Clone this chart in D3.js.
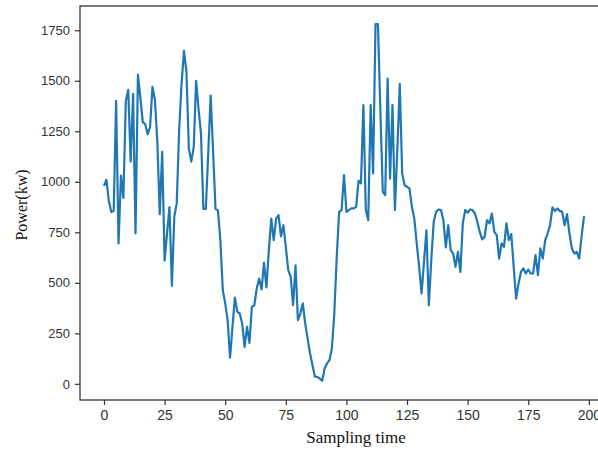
<!DOCTYPE html>
<html>
<head>
<meta charset="utf-8">
<script src="https://cdn.jsdelivr.net/npm/d3@7"></script>
<style>
  body { margin: 0; background: #fff; }
  .tick text { fill: #333; font-family: "Liberation Sans", Arial, sans-serif; }
  .axis-label { font-family: "Liberation Serif", "Times New Roman", serif; fill: #111; }
</style>
</head>
<body>
<div id="main"></div>
<script>
// power readings, one per sampling step (0..198)
const power = [
  980, 1010, 905, 850, 855, 1400, 695, 1030, 920, 1400,
  1455, 1100, 1435, 745, 1530, 1415, 1295, 1285, 1235, 1270,
  1470, 1405, 1200, 840, 1148, 610, 745, 875, 485, 827,
  893, 1256, 1487, 1648, 1545, 1165, 1100, 1170, 1500, 1360,
  1240, 866, 866, 1140, 1427, 1150, 866, 858, 711, 464,
  398, 315, 130, 282, 427, 356, 348, 299, 183, 282,
  203, 381, 389, 472, 521, 467, 599, 477, 662, 818,
  711, 818, 835, 730, 785, 678, 563, 530, 389, 587,
  315, 348, 398, 299, 224, 150, 92, 35, 35, 26,
  15, 76, 101, 117, 175, 348, 629, 851, 860, 1033,
  851, 860, 868, 868, 876, 1005, 992, 1380, 860, 810,
  1380, 1041, 1780, 1780, 1355, 950, 934, 1511, 1016, 1380,
  860, 1157, 1485, 1041, 983, 975, 967, 876, 818, 695,
  579, 447, 604, 760, 389, 612, 802, 851, 863, 860,
  810, 675, 785, 662, 645, 579, 653, 554, 794, 860,
  847, 863, 860, 843, 802, 752, 715, 728, 810, 794,
  843, 752, 736, 620, 695, 678, 794, 711, 741, 579,
  422, 497, 554, 571, 546, 566, 546, 546, 637, 538,
  670, 620, 711, 744, 785, 873, 856, 868, 856, 851,
  785, 840, 744, 670, 645, 653, 620, 728, 830
];
const xTicks = [0, 25, 50, 75, 100, 125, 150, 175, 200];
const yTicks = [0, 250, 500, 750, 1000, 1250, 1500, 1750];

const width = 598;
const height = 451;
const margin = { left: 80, top: 6, bottom: 400, right: 608 };

const svg = d3.select('#main')
              .append('svg')
              .attr('width', width)
              .attr('height', height);

const x = d3.scaleLinear().domain([-9.9, 207.9]).range([margin.left, margin.right]);
const y = d3.scaleLinear().domain([-80, 1870]).range([margin.bottom, margin.top]);

// frame (right side falls outside the picture)
svg.append('rect')
   .attr('x', margin.left)
   .attr('y', margin.top)
   .attr('width', margin.right - margin.left)
   .attr('height', margin.bottom - margin.top)
   .attr('fill', 'none')
   .attr('stroke', '#333')
   .attr('stroke-width', 1.3);

const xAxis = svg.append('g')
   .attr('transform', 'translate(0,' + margin.bottom + ')')
   .call(d3.axisBottom(x).tickValues(xTicks).tickFormat(d3.format('d')).tickSize(5).tickPadding(5));
xAxis.select('.domain').remove();
xAxis.selectAll('.tick line').attr('stroke', '#333').attr('stroke-width', 1.2);
xAxis.selectAll('.tick text').style('font-size', '14px');

const yAxis = svg.append('g')
   .attr('transform', 'translate(' + margin.left + ',0)')
   .call(d3.axisLeft(y).tickValues(yTicks).tickFormat(d3.format('d')).tickSize(5).tickPadding(5));
yAxis.select('.domain').remove();
yAxis.selectAll('.tick line').attr('stroke', '#333').attr('stroke-width', 1.2);
yAxis.selectAll('.tick text').style('font-size', '13px');

const line = d3.line()
   .x((d, i) => x(i))
   .y((d) => y(d));

svg.append('path')
   .datum(power)
   .attr('d', line)
   .attr('fill', 'none')
   .attr('stroke', '#1f77b4')
   .attr('stroke-width', 2.2)
   .attr('stroke-linejoin', 'round');

svg.append('text')
   .attr('class', 'axis-label')
   .attr('x', 356)
   .attr('y', 443)
   .attr('text-anchor', 'middle')
   .style('font-size', '17px')
   .text('Sampling time');

svg.append('text')
   .attr('class', 'axis-label')
   .attr('transform', 'translate(27,205) rotate(-90)')
   .attr('text-anchor', 'middle')
   .style('font-size', '16px')
   .text('Power(kw)');
</script>
</body>
</html>
